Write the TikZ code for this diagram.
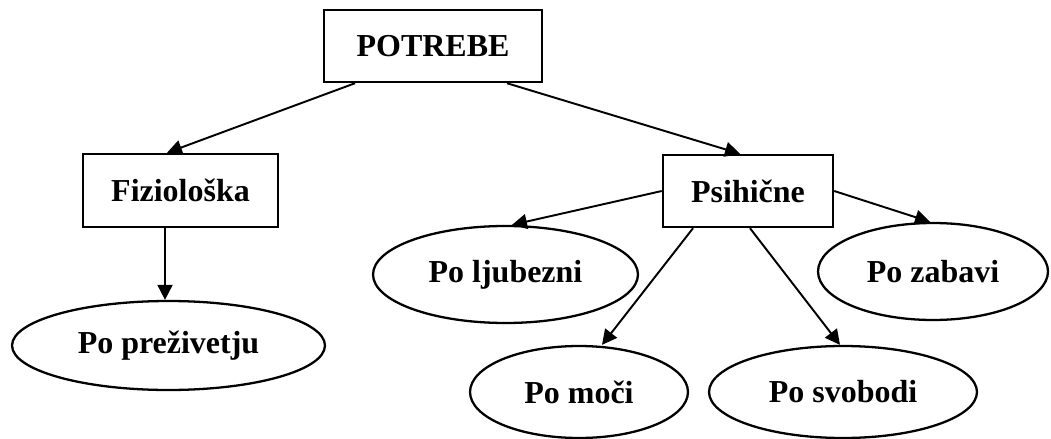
\documentclass[tikz,border=0pt]{standalone}
\usepackage{fontspec}
\setmainfont{Liberation Serif}
\usetikzlibrary{shapes.geometric,arrows.meta}
\begin{document}
\begin{tikzpicture}[x=0.02cm,y=-0.02cm,
    box/.style={draw,line width=1.4pt,rectangle,inner sep=0pt,font=\fontsize{18.2}{21}\selectfont\bfseries},
    oval/.style={draw,line width=1.3pt,ellipse,inner sep=0pt,font=\fontsize{18.2}{21}\selectfont\bfseries},
    arr/.style={line width=1.1pt,-{Triangle[length=8.5pt,width=8.5pt]}}]
        \useasboundingbox (0,0) rectangle (1051,439);
        \node[box,minimum width=4.36cm,minimum height=1.44cm] (potrebe) at (433,46) {POTREBE};
        \node[box,minimum width=3.9cm,minimum height=1.46cm] (fizio) at (180.5,190.5) {Fiziološka};
        \node[box,minimum width=3.4cm,minimum height=1.44cm] (psih) at (748,191) {Psihične};
        \node[oval,minimum width=6.26cm,minimum height=1.78cm] (prez) at (168.5,345.5) {Po preživetju};
        \node[oval,minimum width=5.3cm,minimum height=1.94cm] (ljub) at (505.5,274.5) {Po ljubezni};
        \node[oval,minimum width=4.6cm,minimum height=1.94cm] (zab) at (933,271.5) {Po zabavi};
        \node[oval,minimum width=4.36cm,minimum height=1.84cm] (moc) at (579,392) {Po moči};
        \node[oval,minimum width=5.36cm,minimum height=1.84cm] (svob) at (843,392) {Po svobodi};
        \draw[arr] ([xshift=-1.56cm]potrebe.south) -- ([xshift=-0.27cm]fizio.north);
        \draw[arr] ([xshift=1.48cm]potrebe.south) -- ([xshift=-0.16cm]psih.north);
        \draw[arr] ([xshift=-0.31cm]fizio.south) -- ([xshift=-0.31cm]fizio.south |- prez.north);
        \draw[arr] (psih.west) -- ([xshift=0.13cm]ljub.north);
        \draw[arr] ([xshift=-1.1cm]psih.south) -- ([xshift=0.46cm]moc.north);
        \draw[arr] ([xshift=0.04cm]psih.south) -- ([xshift=-0.06cm]svob.north);
        \draw[arr] (psih.east) -- ([xshift=-0.06cm]zab.north);
\end{tikzpicture}
\end{document}
